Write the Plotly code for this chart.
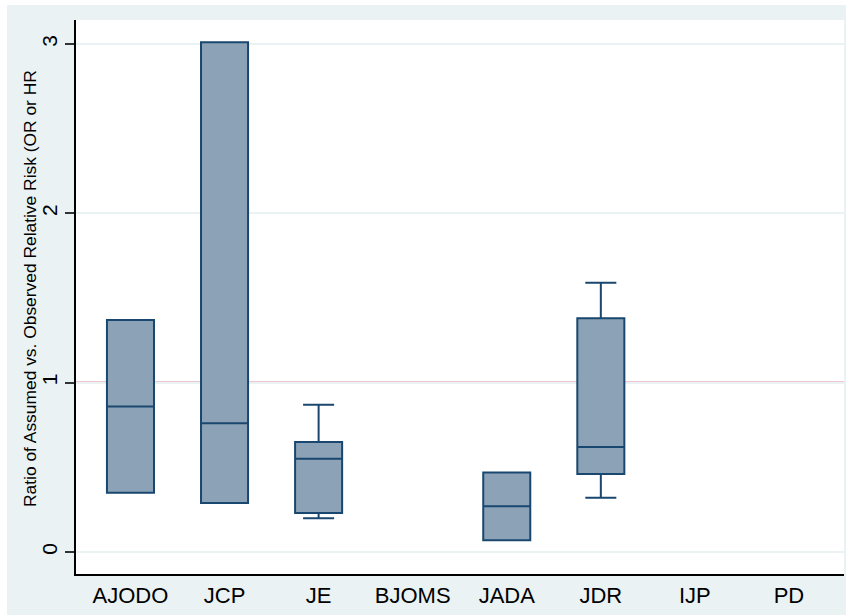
import plotly.graph_objects as go

# ---- data ----
journals = ["AJODO", "JCP", "JE", "BJOMS", "JADA", "JDR", "IJP", "PD"]
box_journals = ["AJODO", "JCP", "JE", "JADA", "JDR"]
q1 = [0.35, 0.29, 0.23, 0.07, 0.46]
median = [0.86, 0.76, 0.55, 0.27, 0.62]
q3 = [1.37, 3.01, 0.65, 0.47, 1.38]
lower = [0.35, 0.29, 0.20, 0.07, 0.32]
upper = [1.37, 3.01, 0.87, 0.47, 1.59]
y_ticks = [0, 1, 2, 3]
ref_value = 1
y_title = "Ratio of Assumed vs. Observed Relative Risk (OR or HR"

W, H = 846, 615
ML, MR, MT, MB = 76, 2, 20, 41
pw, ph = W - ML - MR, H - MT - MB

def px_x(p):
    return (p - ML) / pw

def px_y(p):
    return (H - MB - p) / ph

FONT = "Liberation Sans, Arial, sans-serif"
NAVY = "#1A476F"
FILL = "#8CA3B7"
BG = "#EAF2F3"

xpos = [journals.index(j) for j in box_journals]

fig = go.Figure()
fig.add_trace(go.Box(
    x=xpos, q1=q1, median=median, q3=q3,
    lowerfence=lower, upperfence=upper,
    width=0.5, whiskerwidth=0.66,
    fillcolor=FILL, line=dict(color=NAVY, width=2),
    boxpoints=False, hoverinfo="skip", showlegend=False,
))

fig.add_shape(type="line", xref="paper", yref="y", x0=0, x1=1,
              y0=ref_value, y1=ref_value, layer="below",
              line=dict(color="#C41E45", width=2))

# white strips outside the light graph region (left and top)
fig.add_shape(type="rect", xref="paper", yref="paper",
              x0=px_x(-5), x1=px_x(7), y0=px_y(H + 5), y1=px_y(-5),
              fillcolor="white", line=dict(width=0), layer="below")
fig.add_shape(type="rect", xref="paper", yref="paper",
              x0=px_x(-5), x1=px_x(W + 5), y0=px_y(5), y1=px_y(-5),
              fillcolor="white", line=dict(width=0), layer="below")

fig.add_annotation(text=y_title, xref="paper", yref="paper",
                   x=px_x(30), y=px_y(289), textangle=-90,
                   showarrow=False, xanchor="center", yanchor="middle",
                   font=dict(family=FONT, size=17.4, color="black"))

fig.update_layout(
    width=W, height=H,
    margin=dict(l=ML, r=MR, t=MT, b=MB, pad=0),
    paper_bgcolor=BG, plot_bgcolor="white",
    font=dict(family=FONT, color="black"),
    showlegend=False,
)
fig.update_xaxes(
    range=[-0.579, 7.585], tickmode="array",
    tickvals=list(range(len(journals))), ticktext=journals,
    showgrid=False, zeroline=False, ticks="",
    showline=True, linecolor="black", linewidth=1.5,
    tickfont=dict(family=FONT, size=22, color="black"),
    ticklabelstandoff=1,
)
fig.update_yaxes(
    range=[-0.130, 3.142], tickmode="array", tickvals=y_ticks,
    tickangle=-90, ticks="outside", ticklen=9, tickwidth=1.5,
    tickcolor="#333333",
    showgrid=True, gridcolor=BG, gridwidth=1.5, zeroline=False,
    showline=True, linecolor="black", linewidth=1.5,
    tickfont=dict(family=FONT, size=21, color="black"),
)

fig.write_html(
    "out.html",
    config={"displayModeBar": False},
    post_script="document.body.style.margin='0';document.body.style.overflow='hidden';",
)
